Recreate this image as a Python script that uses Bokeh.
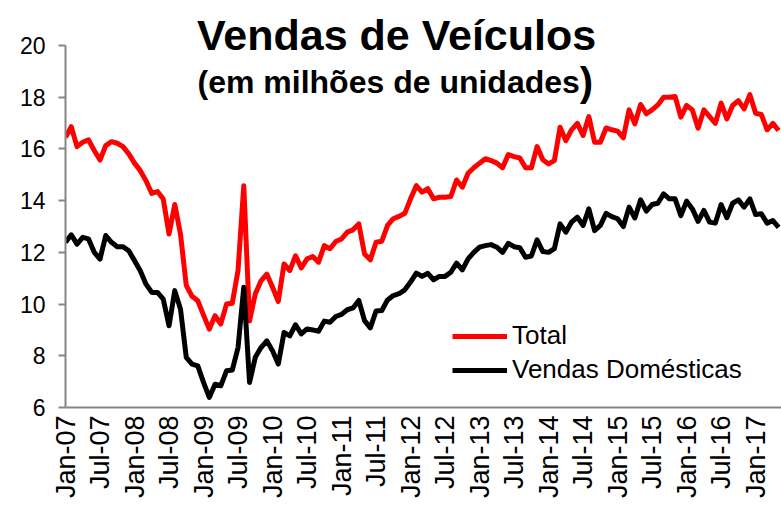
from math import pi
import pandas as pd
from bokeh.plotting import figure
from bokeh.models import Range1d, FixedTicker, Label, Legend, LegendItem
from bokeh.embed import file_html
from bokeh.resources import INLINE

# ---- data (millions of units, monthly Jan-07 .. May-17) ----
months = pd.period_range("2007-01", "2017-05", freq="M").strftime("%b-%y").tolist()

total = [
    16.45, 16.86, 16.09, 16.26, 16.35, 15.94, 15.57, 16.13, 16.28, 16.22, 16.09, 15.81,
    15.45, 15.16, 14.77, 14.28, 14.35, 14.06, 12.71, 13.85, 12.70, 10.72, 10.30, 10.13,
    9.57, 9.03, 9.55, 9.23, 10.00, 10.03, 11.30, 14.58, 9.35, 10.39, 10.90, 11.16,
    10.65, 10.10, 11.55, 11.29, 11.87, 11.40, 11.75, 11.84, 11.62, 12.26, 12.14, 12.42,
    12.52, 12.78, 12.87, 13.10, 11.94, 11.71, 12.39, 12.43, 13.04, 13.30, 13.39, 13.51,
    14.07, 14.58, 14.33, 14.46, 14.07, 14.13, 14.13, 14.16, 14.80, 14.52, 15.06, 15.27,
    15.45, 15.62, 15.55, 15.45, 15.27, 15.78, 15.70, 15.65, 15.27, 15.27, 16.09, 15.58,
    15.42, 15.55, 16.84, 16.32, 16.74, 16.99, 16.52, 17.25, 16.26, 16.26, 16.81, 16.74,
    16.69, 16.43, 17.51, 16.97, 17.72, 17.36, 17.51, 17.70, 18.00, 18.00, 18.03, 17.23,
    17.68, 17.51, 16.80, 17.51, 17.25, 16.99, 17.77, 17.16, 17.68, 17.87, 17.55, 18.10,
    17.38, 17.33, 16.74, 16.99, 16.71,
]

domesticas = [
    12.39, 12.68, 12.32, 12.58, 12.52, 12.00, 11.74, 12.65, 12.39, 12.22, 12.22, 12.06,
    11.68, 11.29, 10.77, 10.45, 10.45, 10.19, 9.16, 10.52, 9.80, 7.94, 7.68, 7.61,
    6.97, 6.39, 6.90, 6.84, 7.42, 7.45, 8.32, 10.65, 6.97, 7.94, 8.32, 8.58,
    8.19, 7.68, 8.90, 8.77, 9.20, 8.85, 9.04, 9.00, 8.95, 9.34, 9.30, 9.52,
    9.60, 9.78, 9.85, 10.14, 9.36, 9.08, 9.73, 9.75, 10.16, 10.33, 10.40, 10.55,
    10.85, 11.20, 11.07, 11.19, 10.94, 11.07, 11.07, 11.23, 11.58, 11.32, 11.75, 12.00,
    12.20, 12.26, 12.30, 12.20, 12.00, 12.35, 12.22, 12.18, 11.81, 11.86, 12.48, 12.03,
    12.00, 12.14, 13.10, 12.78, 13.17, 13.36, 13.04, 13.68, 12.84, 13.04, 13.51, 13.38,
    13.30, 13.00, 13.75, 13.33, 14.03, 13.59, 13.85, 13.90, 14.26, 14.07, 14.07, 13.42,
    13.98, 13.68, 13.20, 13.62, 13.17, 13.13, 13.85, 13.34, 13.90, 14.03, 13.75, 14.07,
    13.46, 13.49, 13.13, 13.23, 12.97,
]

tick_labels = ["Jan-07", "Jul-07", "Jan-08", "Jul-08", "Jan-09", "Jul-09", "Jan-10",
               "Jul-10", "Jan-11", "Jul-11", "Jan-12", "Jul-12", "Jan-13", "Jul-13",
               "Jan-14", "Jul-14", "Jan-15", "Jul-15", "Jan-16", "Jul-16", "Jan-17"]
y_ticks = [6, 8, 10, 12, 14, 16, 18, 20]

series_names = ["Total", "Vendas Domésticas"]

x = list(range(len(months)))
tick_pos = [months.index(t) for t in tick_labels]

FONT = "Liberation Sans"
AXIS_GRAY = "#868686"

# frame spans the full height above the x axis so that the titles sit inside it;
# the y axis line itself is bounded to 6..20
p = figure(width=781, height=505,
           x_range=Range1d(0, 124.5), y_range=Range1d(6, 21.74),
           output_backend="svg", toolbar_location=None,
           min_border_left=65, min_border_right=0,
           min_border_top=0, min_border_bottom=98)
p.outline_line_color = None
p.grid.visible = False
p.background_fill_color = "white"
p.border_fill_color = "white"

# y axis
p.yaxis.ticker = FixedTicker(ticks=y_ticks)
p.yaxis.bounds = (6, 20)
p.yaxis.axis_line_color = AXIS_GRAY
p.yaxis.axis_line_width = 2
p.yaxis.major_tick_line_color = AXIS_GRAY
p.yaxis.major_tick_line_width = 2
p.yaxis.major_tick_out = 7
p.yaxis.major_tick_in = 0
p.yaxis.minor_tick_line_color = None
p.yaxis.major_label_text_font = FONT
p.yaxis.major_label_text_font_size = "23px"
p.yaxis.major_label_text_color = "black"
p.yaxis.major_label_standoff = 13

# x axis
p.xaxis.ticker = FixedTicker(ticks=tick_pos)
p.xaxis.major_label_overrides = {pos: lab for pos, lab in zip(tick_pos, tick_labels)}
p.xaxis.major_label_orientation = pi / 2
p.xaxis.axis_line_color = AXIS_GRAY
p.xaxis.axis_line_width = 2
p.xaxis.major_tick_line_color = None
p.xaxis.major_tick_out = 0
p.xaxis.major_tick_in = 0
p.xaxis.minor_tick_line_color = None
p.xaxis.major_label_text_font = FONT
p.xaxis.major_label_text_font_size = "27px"
p.xaxis.major_label_text_color = "black"
p.xaxis.major_label_standoff = 8

r_total = p.line(x, total, line_color="#FF0000", line_width=5, line_join="round")
r_dom = p.line(x, domesticas, line_color="#000000", line_width=5, line_join="round")

legend = Legend(items=[LegendItem(label=series_names[0], renderers=[r_total]),
                       LegendItem(label=series_names[1], renderers=[r_dom])],
                location=(387, 22), border_line_color=None,
                background_fill_alpha=0, padding=0, margin=0,
                glyph_width=55, glyph_height=30, label_height=30,
                spacing=3, label_standoff=5,
                label_text_font=FONT, label_text_font_size="26px",
                label_text_color="black")
p.add_layout(legend)

# titles
p.add_layout(Label(x=57.57, y=20.42, text="Vendas de Veículos",
                   text_font=FONT, text_font_size="43px", text_font_style="bold",
                   text_align="center", text_baseline="alphabetic", text_color="black"))
p.add_layout(Label(x=22.96, y=18.60, text="(em milhões de unidades",
                   text_font=FONT, text_font_size="32px", text_font_style="bold",
                   text_align="left", text_baseline="alphabetic", text_color="black"))
p.add_layout(Label(x=89.4, y=18.58, text=")",
                   text_font=FONT, text_font_size="40px", text_font_style="bold",
                   text_align="left", text_baseline="alphabetic", text_color="black"))

open("out.html", "w").write(file_html(p, INLINE))
